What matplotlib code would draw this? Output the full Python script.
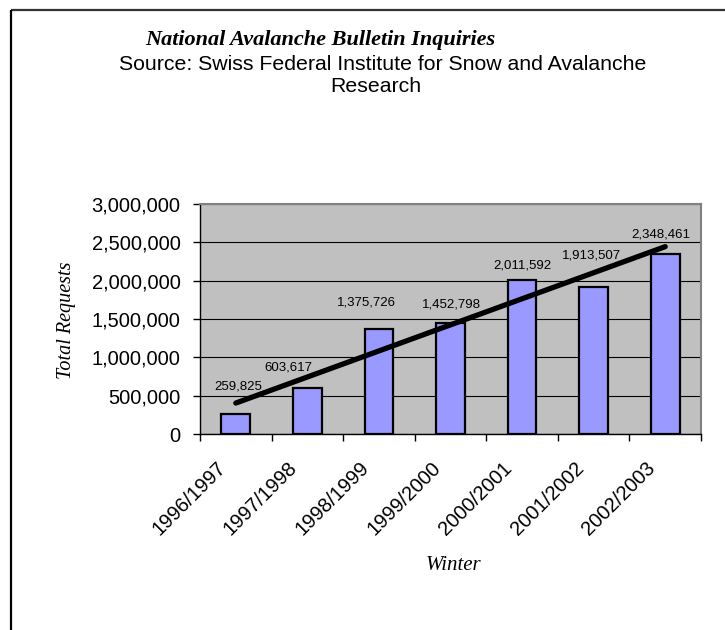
import numpy as np
import matplotlib
matplotlib.use('Agg')
import matplotlib.pyplot as plt
import matplotlib.transforms as mtransforms
from matplotlib.lines import Line2D
from matplotlib.ticker import FuncFormatter

winters = ['1996/1997', '1997/1998', '1998/1999', '1999/2000',
           '2000/2001', '2001/2002', '2002/2003']
requests = [259825, 603617, 1375726, 1452798, 2011592, 1913507, 2348461]
y_ticks = [0, 500000, 1000000, 1500000, 2000000, 2500000, 3000000]

# nudges (pixels) so the value labels sit where they read best
label_dx = [2, -19, -12, 1, 0, -2, -4]
label_dy = [28, 20, 26, 18, 14, 32, 19]

serif = 'Liberation Serif'
sans = 'Liberation Sans'

fig = plt.figure(figsize=(7.25, 6.3), dpi=100)
ax = fig.add_axes([200 / 725, 1 - 434 / 630, 501 / 725, 230 / 630])
ax.set_facecolor('#C0C0C0')

x = np.arange(len(winters))
ax.bar(x, requests, width=0.4, color='#9999FF', edgecolor='black',
       linewidth=1.6, zorder=3)

# linear trend line across the winters
slope, intercept = np.polyfit(x, requests, 1)
ax.plot(x, slope * x + intercept, color='black', linewidth=3.8,
        solid_capstyle='round', zorder=4)

for i, v in enumerate(requests):
    ax.annotate(f'{v:,}', (x[i], v), xytext=(label_dx[i], label_dy[i]),
                textcoords='offset pixels', ha='center', va='center',
                fontsize=9.5, family=sans, zorder=5)

ax.set_xlim(-0.5, len(winters) - 0.5)
ax.set_ylim(0, 3000000)
ax.set_yticks(y_ticks)
ax.yaxis.set_major_formatter(FuncFormatter(lambda v, p: f'{int(v):,}'))
ax.yaxis.grid(True, color='black', linewidth=0.8, zorder=1)
ax.set_axisbelow(True)

# ticks sit between the categories
ax.set_xticks(np.arange(len(winters) + 1) - 0.5)
ax.set_xticklabels([])
ax.tick_params(axis='x', direction='out', length=5, width=1)
ax.tick_params(axis='y', direction='out', length=5, width=1, pad=9,
               labelsize=14.5)
for lab in ax.get_yticklabels():
    lab.set_family(sans)

# slanted category names under the bars
cat_trans = (mtransforms.blended_transform_factory(ax.transData, ax.transAxes)
             + mtransforms.ScaledTranslation(-13 / 100, -31 / 100,
                                             fig.dpi_scale_trans))
for i, name in enumerate(winters):
    ax.text(x[i], 0, name, transform=cat_trans, rotation=45,
            rotation_mode='anchor', ha='right', va='center',
            fontsize=14.5, family=sans)

for side in ['top', 'right']:
    ax.spines[side].set_color('#808080')
    ax.spines[side].set_linewidth(1.5)
for side in ['left', 'bottom']:
    ax.spines[side].set_color('black')
    ax.spines[side].set_linewidth(1.0)

fig.text(145 / 725, 1 - 40 / 630, 'National Avalanche Bulletin Inquiries',
         ha='left', va='center', fontsize=16, family=serif,
         style='italic', weight='bold')
fig.text(383 / 725, 1 - 64 / 630,
         'Source: Swiss Federal Institute for Snow and Avalanche',
         ha='center', va='center', fontsize=15.3, family=sans)
fig.text(376 / 725, 1 - 87 / 630, 'Research',
         ha='center', va='center', fontsize=15.3, family=sans)

fig.text(66 / 725, 1 - 320 / 630, 'Total Requests', rotation=90,
         ha='center', va='center', fontsize=14.5, family=serif,
         style='italic')
fig.text(453 / 725, 1 - 565 / 630, 'Winter', ha='center', va='center',
         fontsize=15, family=serif, style='italic')

# frame lines along the top and left edges
fig.add_artist(Line2D([11 / 725, 1], [1 - 9.5 / 630, 1 - 9.5 / 630],
                      color='#333333', linewidth=1.6,
                      solid_capstyle='butt'))
fig.add_artist(Line2D([11 / 725, 11 / 725], [0, 1 - 9.5 / 630],
                      color='black', linewidth=1.6, solid_capstyle='butt'))

fig.savefig('out.png', dpi=100)
